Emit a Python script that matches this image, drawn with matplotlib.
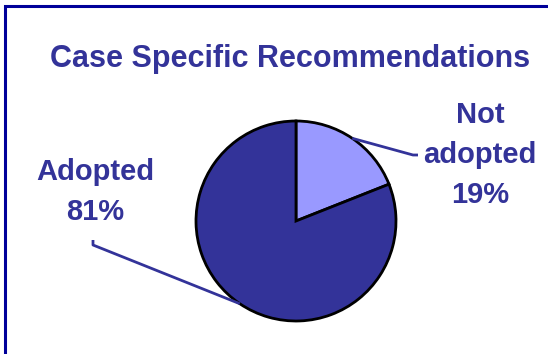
import matplotlib.pyplot as plt
import numpy as np
from matplotlib.patches import Rectangle

labels = ['Not\nadopted\n19%', 'Adopted\n81%']
values = [19, 81]
colors = ['#9999FF', '#333399']
title = 'Case Specific Recommendations'
navy = '#333399'

W, H = 548, 354
fig = plt.figure(figsize=(W / 100, H / 100), dpi=100)
plt.rcParams['font.family'] = ['Liberation Sans', 'DejaVu Sans']

# frame around the chart (cut off at right and bottom)
fig.add_artist(Rectangle((4.5 / W, -0.1), 1.2, (H - 6) / H + 0.1,
                         transform=fig.transFigure, fill=False,
                         edgecolor='#000099', linewidth=2.2))

fig.text(290 / W, 1 - 59 / H, title, ha='center', va='center',
         fontsize=22, fontweight='bold', color=navy)

# pie axes: radius 1 == 100 px, centre at (296, 221)
ax = fig.add_axes([196 / W, (H - 321) / H, 200 / W, 200 / H])
wedges, _ = ax.pie(values, colors=colors, startangle=90, counterclock=False,
                   wedgeprops=dict(edgecolor='black', linewidth=2))
ax.set_xlim(-1, 1)
ax.set_ylim(-1, 1)
ax.set_aspect('equal')
ax.axis('off')

# label positions and leader elbows (data units)
label_pos = [(1.84, 0.66), (-2.01, 0.29)]
elbows = [[(1.17, 0.66), (1.22, 0.66)], [(-2.03, -0.24), (-2.03, -0.19)]]

for w, lab, pos, elb in zip(wedges, labels, label_pos, elbows):
    mid = np.deg2rad((w.theta1 + w.theta2) / 2)
    xs = [np.cos(mid)] + [p[0] for p in elb]
    ys = [np.sin(mid)] + [p[1] for p in elb]
    ax.plot(xs, ys, color=navy, linewidth=2, clip_on=False,
            solid_capstyle='butt')
    ax.text(pos[0], pos[1], lab, ha='center', va='center', fontsize=21,
            fontweight='bold', color=navy, linespacing=1.55, clip_on=False)

plt.savefig('out.png', dpi=100)
